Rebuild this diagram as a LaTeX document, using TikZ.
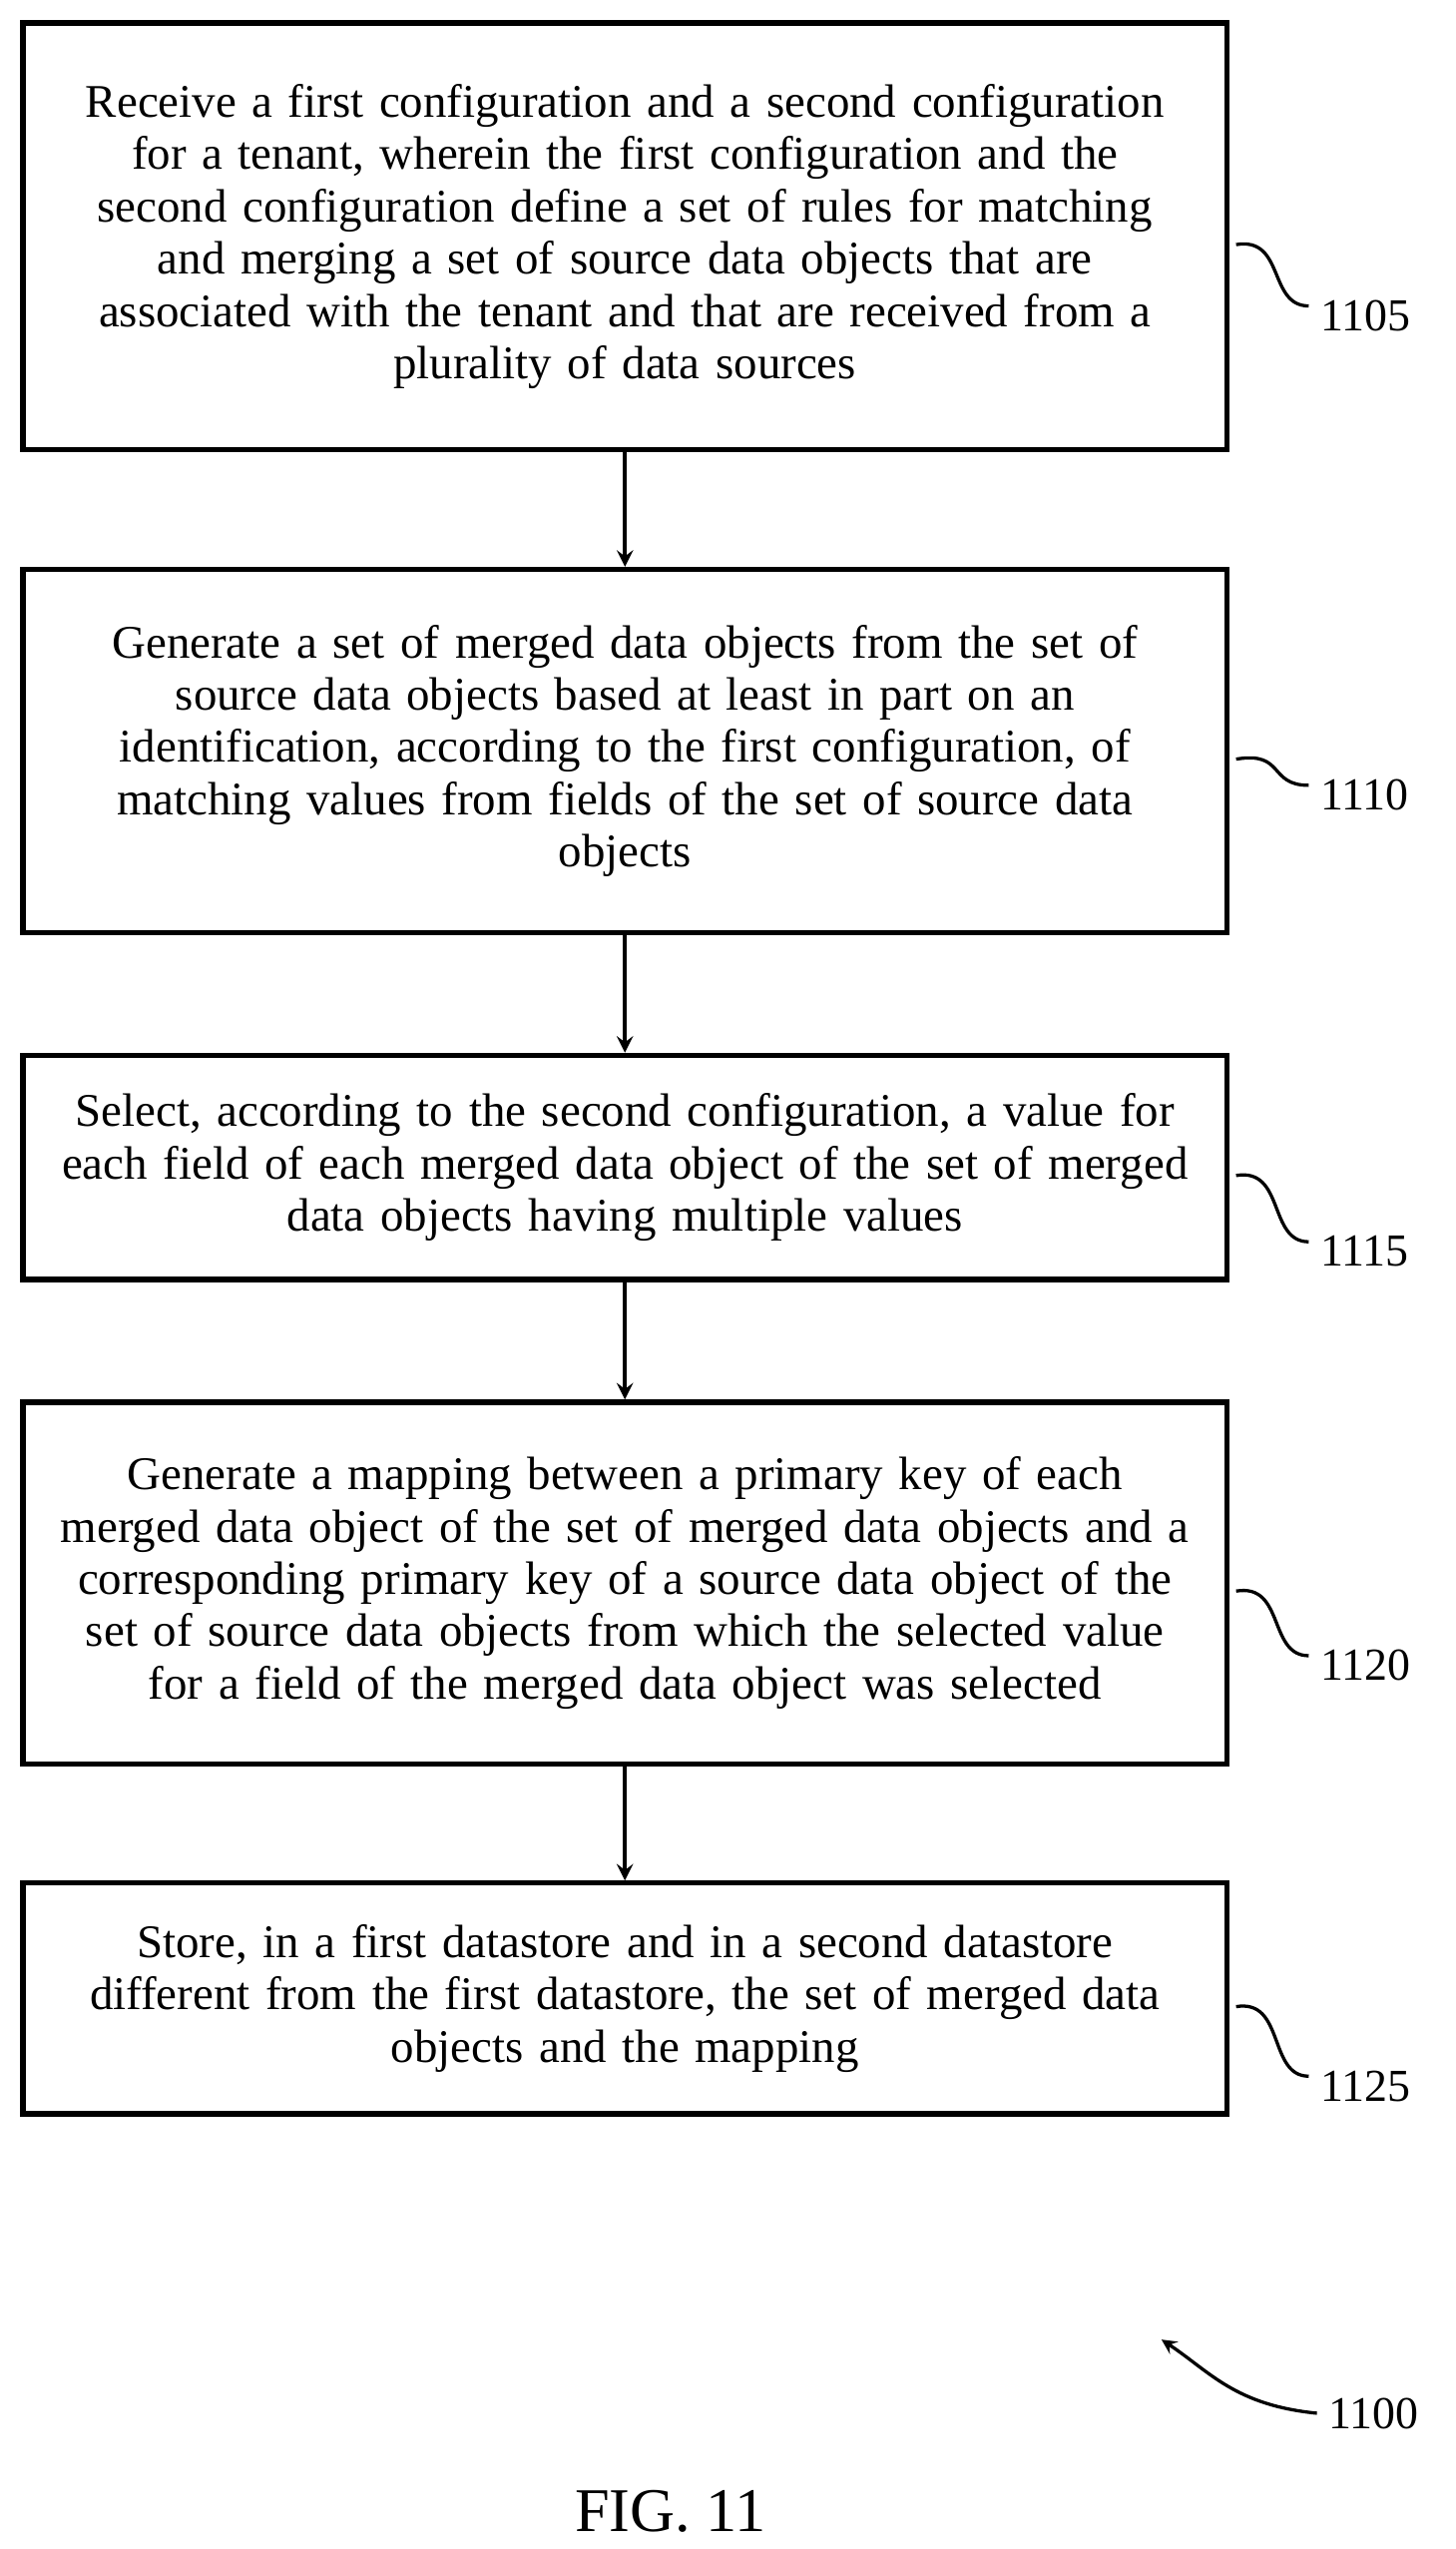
\documentclass[tikz,border=0pt]{standalone}
\usepackage{fontspec}
\setmainfont{Liberation Serif}
\usetikzlibrary{positioning,calc}
\tikzstyle{arrow} = [->,>=stealth,line width=1.2pt]
\tikzstyle{stepbox} = [draw,line width=1.6pt,minimum width=368pt,text width=360pt,align=center,font=\fontsize{14.3}{16}\selectfont,inner sep=0pt]
\tikzstyle{tag} = [font=\fontsize{14}{15}\selectfont,anchor=west]
\tikzstyle{lead} = [line width=1pt]

\begin{document}
\begin{tikzpicture}[x=0.5pt,y=-0.5pt]
          \useasboundingbox (0,0) rectangle (890,1558);
          \node[stepbox, minimum height=130.5pt] at (382,144.5) (b1) {Receive a first configuration and a second configuration\\ for a tenant, wherein the first configuration and the\\ second configuration define a set of rules for matching\\ and merging a set of source data objects that are\\ associated with the tenant and that are received from a\\ plurality of data sources};
          \node[stepbox, minimum height=111pt] at (382,459) (b2) {Generate a set of merged data objects from the set of\\ source data objects based at least in part on an\\ identification, according to the first configuration, of\\ matching values from fields of the set of source data\\ objects};
          \node[stepbox, minimum height=68.5pt] at (382,713.5) (b3) {Select, according to the second configuration, a value for\\ each field of each merged data object of the set of merged\\ data objects having multiple values};
          \node[stepbox, minimum height=110.5pt] at (382,967.5) (b4) {Generate a mapping between a primary key of each\\ merged data object of the set of merged data objects and a\\ corresponding primary key of a source data object of the\\ set of source data objects from which the selected value\\ for a field of the merged data object was selected};
          \node[stepbox, minimum height=70.5pt] at (382,1221.5) (b5) {Store, in a first datastore and in a second datastore\\ different from the first datastore, the set of merged data\\ objects and the mapping};

          \draw[arrow] (b1) -- (b2);
          \draw[arrow] (b2) -- (b3);
          \draw[arrow] (b3) -- (b4);
          \draw[arrow] (b4) -- (b5);

          % reference numerals
          \node[tag] at (800,193) (n1) {1105};
          \node[tag] at (800,486) (n2) {1110};
          \node[tag] at (800,765) (n3) {1115};
          \node[tag] at (800,1018) (n4) {1120};
          \node[tag] at (800,1275) (n5) {1125};
          \foreach \b/\n in {b1/n1,b2/n2,b3/n3,b4/n4,b5/n5}
            \draw[lead] ($(\b.east)+(4,5)$) .. controls +(30,-5) and +(-25,0) .. ($(\n.west)+(0,-6)$);

          \node[tag] at (805,1475) (fig) {1100};
          \draw[->,>=stealth,lead] (fig.west) .. controls +(-50,-5) and +(30,20) .. +(-95,-45);
          \node[font=\fontsize{19}{22}\selectfont] at (410,1535) (cap) {FIG. 11};
        \end{tikzpicture}
\end{document}
